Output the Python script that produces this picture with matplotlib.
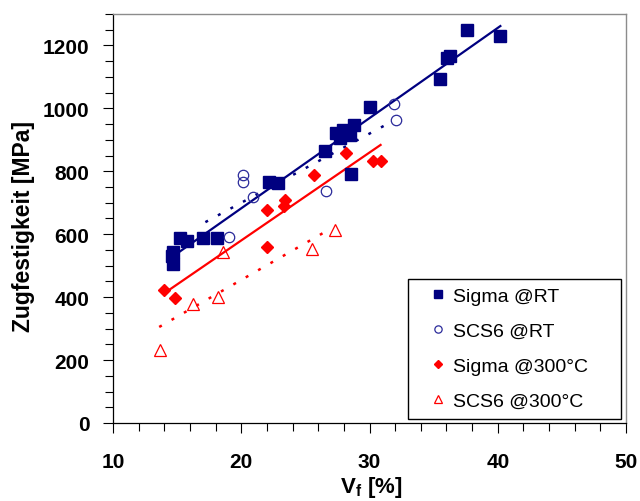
import numpy as np
import matplotlib
matplotlib.use("Agg")
import matplotlib.pyplot as plt

plt.rcParams["font.family"] = ["Liberation Sans", "DejaVu Sans"]
plt.rcParams["mathtext.fontset"] = "custom"
plt.rcParams["mathtext.rm"] = "Liberation Sans"
plt.rcParams["mathtext.bf"] = "Liberation Sans:bold"

# Fibre volume fraction [%] and tensile strength [MPa]
sigma_rt_vf = [14.65, 14.6, 14.7, 15.2, 15.8, 17.0, 18.1, 22.2, 22.9, 26.55,
               27.4, 27.9, 28.8, 28.5, 27.7, 28.55, 30.0, 35.5, 36.05, 36.3,
               37.6, 40.2]
sigma_rt_uts = [543, 530, 506, 588, 577, 588, 588, 766, 763, 865,
                922, 930, 948, 914, 906, 792, 1005, 1095, 1161, 1167,
                1249, 1230]

scs6_rt_vf = [19.07, 20.1, 20.16, 20.9, 26.6, 31.9, 32.06]
scs6_rt_uts = [591, 787, 766, 718, 736, 1015, 964]

sigma_300_vf = [13.97, 14.83, 22.03, 22.03, 23.3, 23.4, 25.67, 28.2, 30.24, 30.86]
sigma_300_uts = [424, 397, 559, 676, 690, 710, 789, 858, 832, 833]

scs6_300_vf = [13.7, 16.26, 18.2, 18.55, 25.53, 27.3]
scs6_300_uts = [233, 378, 400, 543, 552, 612]

# x-range covered by each linear trend line
sigma_rt_fit_range = [14.65, 40.2]
scs6_rt_fit_range = [17.2, 31.2]
sigma_300_fit_range = [13.97, 30.86]
scs6_300_fit_range = [13.6, 27.0]

x_ticks = [10, 20, 30, 40, 50]
y_ticks = [0, 200, 400, 600, 800, 1000, 1200]

NAVY = "#000080"
RED = "#FF0000"

fig = plt.figure(figsize=(6.4, 5.02), dpi=100)
ax = fig.add_axes([0.1766, 0.1554, 0.8016, 0.8147])


def trend(vf, uts, xr, **kw):
    k, d = np.polyfit(vf, uts, 1)
    xs = np.array(xr)
    ax.plot(xs, k * xs + d, **kw)


trend(sigma_rt_vf, sigma_rt_uts, sigma_rt_fit_range, color=NAVY, lw=1.6, zorder=2)
trend(scs6_rt_vf, scs6_rt_uts, scs6_rt_fit_range, color=NAVY, lw=1.8,
      ls=(0, (1.2, 4.5)), zorder=2)
trend(sigma_300_vf, sigma_300_uts, sigma_300_fit_range, color=RED, lw=1.6, zorder=2)
trend(scs6_300_vf, scs6_300_uts, scs6_300_fit_range, color=RED, lw=1.8,
      ls=(0, (1.2, 4.5)), zorder=2)

ax.plot(sigma_rt_vf, sigma_rt_uts, ls="none", marker="s", ms=8, mfc=NAVY,
        mec=NAVY, label="Sigma @RT", zorder=3)
ax.plot(scs6_rt_vf, scs6_rt_uts, ls="none", marker="o", ms=7.5, mfc="none",
        mec="#2a2a9a", mew=0.9, label="SCS6 @RT", zorder=3)
ax.plot(sigma_300_vf, sigma_300_uts, ls="none", marker="D", ms=6.5, mfc=RED,
        mec=RED, label="Sigma @300°C", zorder=3)
ax.plot(scs6_300_vf, scs6_300_uts, ls="none", marker="^", ms=9, mfc="none",
        mec=RED, mew=0.9, label="SCS6 @300°C", zorder=3)

ax.set_xlim(10, 50)
ax.set_ylim(0, 1300)
ax.set_xticks(x_ticks)
ax.set_yticks(y_ticks)
ax.set_xticks(np.arange(10, 51, 2), minor=True)
ax.set_yticks(np.arange(0, 1301, 50), minor=True)
ax.tick_params(axis="both", which="both", direction="out", width=0.8,
               color="black")
ax.tick_params(axis="both", which="major", length=7, labelsize=15)
ax.tick_params(axis="both", which="minor", length=6)
ax.tick_params(axis="x", which="major", pad=14)
ax.tick_params(axis="y", which="major", pad=10)
for lab in ax.get_xticklabels() + ax.get_yticklabels():
    lab.set_fontweight("bold")

for side in ("top", "right"):
    ax.spines[side].set_color("#8c8c8c")
    ax.spines[side].set_linewidth(1.0)
for side in ("left", "bottom"):
    ax.spines[side].set_color("black")
    ax.spines[side].set_linewidth(0.9)

ax.set_ylabel("Zugfestigkeit [MPa]", fontsize=16.5, fontweight="bold")
ax.yaxis.set_label_coords(-0.152, 0.484)
ax.set_xlabel(r"$\mathbf{V_f}$ [%]", fontsize=16, fontweight="bold")
ax.xaxis.set_label_coords(0.503, -0.125)

leg = ax.legend(loc="lower left", bbox_to_anchor=(0.575, 0.0098, 0.415, 0.345),
                mode="expand", fontsize=14, frameon=True, fancybox=False,
                edgecolor="black", framealpha=1, borderpad=0.45,
                labelspacing=0.9, handlelength=2.2, handletextpad=-0.35,
                markerscale=0.7, borderaxespad=0)
leg.get_frame().set_linewidth(1.0)

fig.savefig("out.png", dpi=100)
